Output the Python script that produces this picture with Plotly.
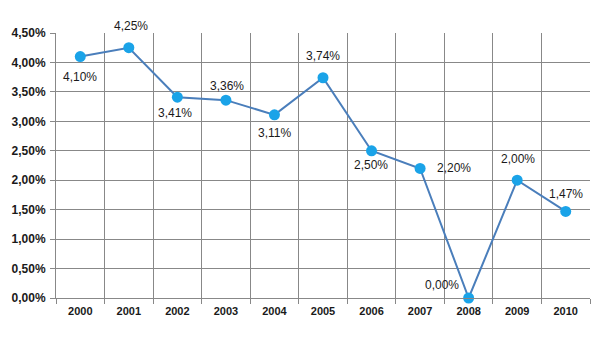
import plotly.graph_objects as go

years = ["2000", "2001", "2002", "2003", "2004", "2005", "2006", "2007", "2008", "2009", "2010"]
rates = [4.10, 4.25, 3.41, 3.36, 3.11, 3.74, 2.50, 2.20, 0.00, 2.00, 1.47]

# pixel offsets of each value label relative to its marker
label_dx = [0, 2, -2, 1, 0, 0, -1, 34, -27, 1, 0]
label_dy = [-20, 22, -16, 14, -18, 22, -14, 0, 13, 21, 17]

values = [r / 100 for r in rates]
labels = [f"{r:.2f}%".replace(".", ",") for r in rates]

fig = go.Figure(go.Scatter(
    x=years, y=values,
    mode="lines+markers",
    line=dict(color="#4A7EBB", width=2),
    marker=dict(color="#1AA3E8", size=11),
    cliponaxis=False,
    hoverinfo="skip",
))

# category axis: annotations are placed by category index
for i, (v, t, dx, dy) in enumerate(zip(values, labels, label_dx, label_dy)):
    fig.add_annotation(
        x=i, y=v, xref="x", yref="y", text=t, showarrow=False,
        xshift=dx, yshift=dy,
        font=dict(family="Liberation Sans", size=12, color="#1a1a1a"),
    )

grid = "#888888"
tick_font = dict(family="Liberation Sans", size=12, color="#1a1a1a", weight="bold")
fig.update_layout(
    width=607, height=338,
    margin=dict(l=56, r=17, t=33, b=40),
    paper_bgcolor="white", plot_bgcolor="white",
    separators=",.",
    showlegend=False,
)
fig.update_xaxes(
    type="category", tickson="boundaries", range=[-0.5, 10.5],
    showgrid=True, gridcolor=grid, gridwidth=1,
    showline=True, linecolor=grid,
    ticks="outside", ticklen=5, tickcolor=grid,
    ticklabelstandoff=3,
    tickfont=dict(tick_font, size=11),
)
fig.update_yaxes(
    range=[0, 0.045], dtick=0.005, tickformat=".2%",
    showgrid=True, gridcolor=grid, gridwidth=1,
    showline=True, linecolor=grid, zeroline=False,
    ticks="outside", ticklen=5, tickcolor=grid,
    ticklabelstandoff=2,
    tickfont=tick_font,
)

fig.write_html("out.html")
